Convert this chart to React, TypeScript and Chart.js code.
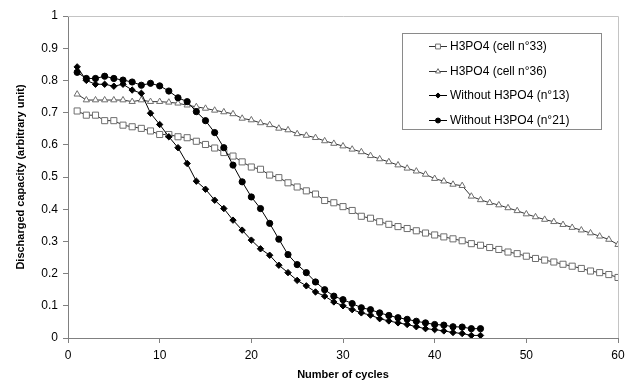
import React, { useEffect, useRef } from 'react';
import { Chart, registerables } from 'chart.js';

Chart.register(...registerables);

const FONT = 'Arial, "Liberation Sans", sans-serif';

const cycles60 = [
  1, 2, 3, 4, 5, 6, 7, 8, 9, 10, 11, 12, 13, 14, 15, 16, 17, 18, 19, 20,
  21, 22, 23, 24, 25, 26, 27, 28, 29, 30, 31, 32, 33, 34, 35, 36, 37, 38, 39, 40,
  41, 42, 43, 44, 45, 46, 47, 48, 49, 50, 51, 52, 53, 54, 55, 56, 57, 58, 59, 60,
];
const cycles45 = cycles60.slice(0, 45);

const labels = [
  'H3PO4 (cell n°33)',
  'H3PO4 (cell n°36)',
  'Without H3PO4 (n°13)',
  'Without H3PO4 (n°21)',
];

const cell33 = [
  0.705, 0.692, 0.692, 0.675, 0.675, 0.661, 0.656, 0.651, 0.643, 0.632,
  0.632, 0.625, 0.622, 0.611, 0.601, 0.590, 0.576, 0.565, 0.547, 0.531,
  0.524, 0.506, 0.498, 0.482, 0.469, 0.457, 0.447, 0.427, 0.420, 0.408,
  0.396, 0.378, 0.372, 0.361, 0.353, 0.346, 0.340, 0.333, 0.326, 0.320,
  0.314, 0.308, 0.302, 0.293, 0.288, 0.281, 0.275, 0.267, 0.262, 0.254,
  0.247, 0.242, 0.236, 0.229, 0.223, 0.216, 0.208, 0.203, 0.197, 0.188,
];

const cell36 = [
  0.757, 0.739, 0.739, 0.739, 0.739, 0.739, 0.734, 0.739, 0.734, 0.734,
  0.732, 0.729, 0.723, 0.718, 0.713, 0.707, 0.702, 0.696, 0.682, 0.677,
  0.668, 0.662, 0.651, 0.646, 0.634, 0.629, 0.622, 0.612, 0.604, 0.596,
  0.586, 0.578, 0.566, 0.556, 0.547, 0.537, 0.527, 0.518, 0.508, 0.495,
  0.487, 0.477, 0.473, 0.440, 0.429, 0.420, 0.413, 0.404, 0.395, 0.385,
  0.376, 0.368, 0.361, 0.352, 0.343, 0.335, 0.326, 0.316, 0.306, 0.290,
];

const cell13 = [
  0.842, 0.800, 0.788, 0.788, 0.782, 0.788, 0.770, 0.760, 0.698, 0.663,
  0.625, 0.591, 0.542, 0.487, 0.462, 0.428, 0.402, 0.366, 0.335, 0.304,
  0.277, 0.257, 0.226, 0.203, 0.179, 0.162, 0.143, 0.130, 0.112, 0.100,
  0.088, 0.078, 0.071, 0.060, 0.053, 0.047, 0.042, 0.035, 0.029, 0.026,
  0.022, 0.017, 0.014, 0.008, 0.008,
];

const cell21 = [
  0.825, 0.806, 0.806, 0.813, 0.806, 0.801, 0.795, 0.785, 0.791, 0.783,
  0.767, 0.746, 0.734, 0.703, 0.675, 0.638, 0.591, 0.537, 0.485, 0.438,
  0.402, 0.356, 0.307, 0.259, 0.228, 0.203, 0.174, 0.150, 0.130, 0.119,
  0.107, 0.094, 0.088, 0.078, 0.070, 0.063, 0.058, 0.052, 0.047, 0.042,
  0.040, 0.035, 0.034, 0.029, 0.029,
];

const xTitle = 'Number of cycles';
const yTitle = 'Discharged capacity (arbitrary unit)';

const toPts = (xs: number[], ys: number[]) => ys.map((y, i) => ({ x: xs[i], y }));

function drawMarker(ctx: CanvasRenderingContext2D, style: string, x: number, y: number, r: number, fill: string, stroke: string) {
  ctx.save();
  ctx.fillStyle = fill;
  ctx.strokeStyle = stroke;
  ctx.lineWidth = 1;
  ctx.beginPath();
  if (style === 'rect') {
    const s = r * Math.SQRT1_2;
    ctx.rect(x - s, y - s, 2 * s, 2 * s);
  } else if (style === 'triangle') {
    ctx.moveTo(x, y - r);
    ctx.lineTo(x + r * Math.sin((2 * Math.PI) / 3), y - r * Math.cos((2 * Math.PI) / 3));
    ctx.lineTo(x + r * Math.sin((4 * Math.PI) / 3), y - r * Math.cos((4 * Math.PI) / 3));
    ctx.closePath();
  } else if (style === 'rectRot') {
    ctx.moveTo(x, y - r);
    ctx.lineTo(x + r, y);
    ctx.lineTo(x, y + r);
    ctx.lineTo(x - r, y);
    ctx.closePath();
  } else {
    ctx.arc(x, y, r, 0, Math.PI * 2);
  }
  ctx.fill();
  ctx.stroke();
  ctx.restore();
}

export default function App() {
  const ref = useRef<HTMLCanvasElement>(null);

  useEffect(() => {
    const canvas = ref.current;
    if (!canvas) return;

    const frame = {
      id: 'frame',
      beforeDatasetsDraw(chart: any) {
        const { ctx, chartArea: a } = chart;
        ctx.save();
        ctx.strokeStyle = '#c4c4c4';
        ctx.lineWidth = 1;
        ctx.beginPath();
        ctx.moveTo(a.left, Math.round(a.top) + 0.5);
        ctx.lineTo(Math.round(a.right) + 0.5, Math.round(a.top) + 0.5);
        ctx.lineTo(Math.round(a.right) + 0.5, a.bottom);
        ctx.stroke();
        ctx.restore();
      },
    };

    const boxLegend = {
      id: 'boxLegend',
      afterDraw(chart: any) {
        const ctx = chart.ctx as CanvasRenderingContext2D;
        ctx.save();
        const L = 402.5, T = 33.5, W = 199, H = 96;
        ctx.fillStyle = '#ffffff';
        ctx.fillRect(L, T, W, H);
        ctx.strokeStyle = '#8a8a8a';
        ctx.lineWidth = 1;
        ctx.strokeRect(L, T, W, H);
        ctx.font = `12px ${FONT}`;
        ctx.textBaseline = 'middle';
        ctx.textAlign = 'left';
        chart.data.datasets.forEach((ds: any, i: number) => {
          const y = Math.round(46 + i * 24.7) + 0.5;
          ctx.strokeStyle = ds.borderColor;
          ctx.lineWidth = 1;
          ctx.beginPath();
          ctx.moveTo(429, y);
          ctx.lineTo(447, y);
          ctx.stroke();
          drawMarker(ctx, ds.pointStyle, 438, y, ds.pointRadius * 0.8, ds.pointBackgroundColor, ds.pointBorderColor);
          ctx.fillStyle = '#000';
          ctx.fillText(ds.label, 450, y);
        });
        ctx.restore();
      },
    };

    const chart = new Chart(canvas, {
      type: 'line',
      data: {
        datasets: [
          {
            label: labels[0],
            data: toPts(cycles60, cell33),
            borderColor: '#333333',
            borderWidth: 1,
            pointStyle: 'rect',
            pointRadius: 4.3,
            pointBorderWidth: 1,
            pointBorderColor: '#6e6e6e',
            pointBackgroundColor: '#ffffff',
            order: 4,
          },
          {
            label: labels[1],
            data: toPts(cycles60, cell36),
            borderColor: '#333333',
            borderWidth: 1,
            pointStyle: 'triangle',
            pointRadius: 3.6,
            pointBorderWidth: 1,
            pointBorderColor: '#6e6e6e',
            pointBackgroundColor: '#ffffff',
            order: 3,
          },
          {
            label: labels[2],
            data: toPts(cycles45, cell13),
            borderColor: '#000000',
            borderWidth: 1,
            pointStyle: 'rectRot',
            pointRadius: 3.2,
            pointBorderWidth: 1,
            pointBorderColor: '#000000',
            pointBackgroundColor: '#000000',
            order: 2,
          },
          {
            label: labels[3],
            data: toPts(cycles45, cell21),
            borderColor: '#000000',
            borderWidth: 1,
            pointStyle: 'circle',
            pointRadius: 3.1,
            pointBorderWidth: 1,
            pointBorderColor: '#000000',
            pointBackgroundColor: '#000000',
            order: 1,
          },
        ] as any,
      },
      options: {
        animation: false,
        responsive: false,
        devicePixelRatio: 1,
        layout: { padding: { top: 16, right: 14, left: 0, bottom: 0 } },
        plugins: { legend: { display: false }, tooltip: { enabled: false } },
        elements: { line: { tension: 0 } },
        scales: {
          x: {
            type: 'linear',
            min: 0,
            max: 60,
            ticks: { stepSize: 10, color: '#000', font: { family: FONT, size: 12 }, padding: 5 },
            grid: { drawOnChartArea: false, drawTicks: true, tickLength: 5, color: '#808080' },
            border: { color: '#808080' },
            title: {
              display: true,
              text: xTitle,
              color: '#000',
              font: { family: FONT, size: 11, weight: 'bold' },
              padding: { top: 0, bottom: 1 },
            },
            afterFit: (s: any) => { s.height = 45; },
          },
          y: {
            type: 'linear',
            min: 0,
            max: 1,
            ticks: {
              stepSize: 0.1,
              color: '#000',
              font: { family: FONT, size: 12 },
              padding: 5,
              callback: (v: any) => String(Number(Number(v).toFixed(1))),
            },
            grid: { drawOnChartArea: false, drawTicks: true, tickLength: 5, color: '#808080' },
            border: { color: '#808080' },
            title: {
              display: true,
              text: yTitle,
              color: '#000',
              font: { family: FONT, size: 11, weight: 'bold' },
              padding: { top: 14, bottom: 0 },
            },
            afterFit: (s: any) => { s.width = 68; },
          },
        },
      } as any,
      plugins: [frame, boxLegend],
    });

    return () => chart.destroy();
  }, []);

  return (
    <div style={{ position: 'fixed', left: 0, top: 0, width: 632, height: 383, background: '#fff' }}>
      <canvas ref={ref} width={632} height={383} style={{ display: 'block', width: 632, height: 383 }} />
    </div>
  );
}
